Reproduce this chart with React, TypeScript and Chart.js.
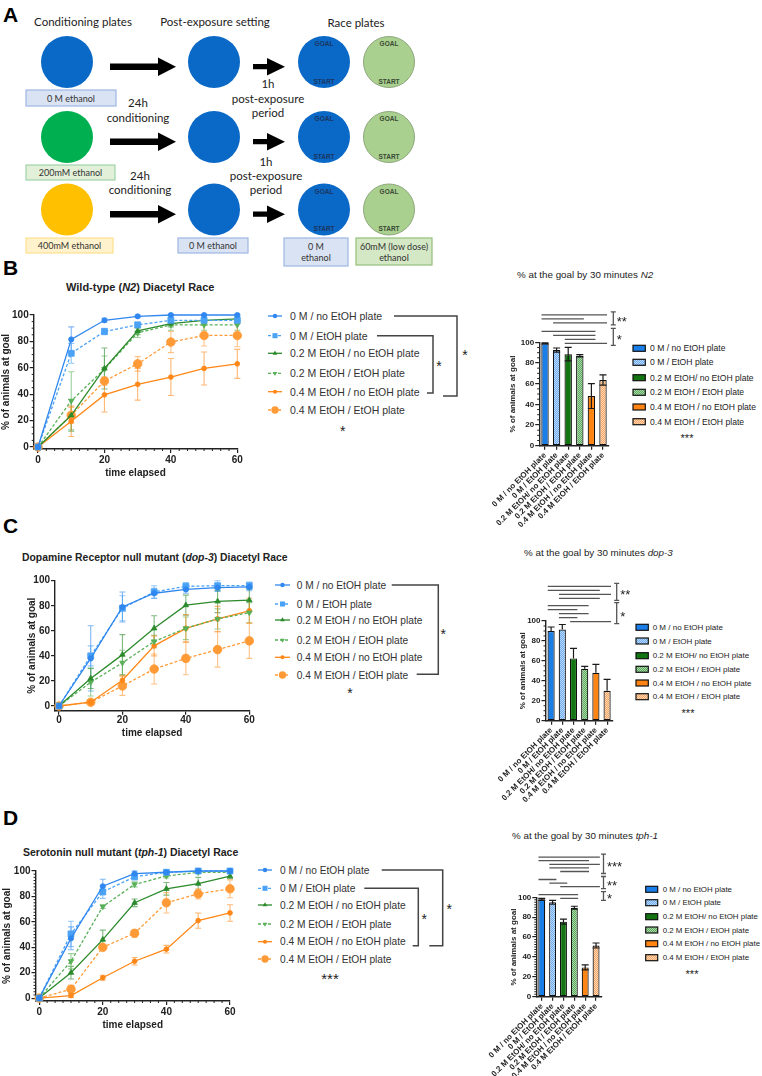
import React, { useEffect, useRef } from 'react';
import { Chart, registerables } from 'chart.js';

Chart.register(...registerables);

const SANS = '"Liberation Sans", Arial, Helvetica, sans-serif';
const LATO = 'Lato, "Open Sans", sans-serif';

Chart.defaults.font.family = SANS;
Chart.defaults.color = '#222';

// ---------------- data ----------------
const TIME = [0, 10, 20, 30, 40, 50, 60];
const TIME_TICKS = [0, 20, 40, 60];
const PCT_TICKS = [0, 20, 40, 60, 80, 100];

const LINE_GROUPS = [
  '0 M / no EtOH plate',
  '0 M / EtOH plate',
  '0.2 M EtOH / no EtOH plate',
  '0.2 M EtOH / EtOH plate',
  '0.4 M EtOH / no EtOH plate',
  '0.4 M EtOH / EtOH plate',
];
const BAR_GROUPS = [
  '0 M / no EtOH plate',
  '0 M / EtOH plate',
  '0.2 M EtOH/ no EtOH plate',
  '0.2 M EtOH / EtOH plate',
  '0.4 M EtOH / no EtOH plate',
  '0.4 M EtOH / EtOH plate',
];

// Wild-type (N2)
const N2_MEAN = [
  [0, 81.5, 96, 99, 100, 100, 100],
  [0, 71, 87.5, 92.5, 96, 96, 96],
  [0, 24, 59.5, 88, 93.5, 96, 97],
  [0, 35, 59, 86.5, 92.5, 92.5, 92.5],
  [0, 19.5, 39.5, 47.5, 53, 59.5, 63],
  [0, 24, 50, 63, 79.5, 84.5, 84.5],
];
const N2_SEM = [
  [0, 9.5, 1.5, 0.8, 0.5, 0.5, 0.5],
  [0, 7.5, 2.5, 2, 1.5, 1.5, 1.5],
  [0, 12, 15.5, 3, 2.5, 2, 1.5],
  [0, 22, 10, 3.5, 4, 4, 4],
  [0, 11.5, 13, 12, 14, 12.5, 11],
  [0, 6, 3, 5.5, 8, 8, 8.5],
];
const N2_BAR = [99, 92.5, 88.5, 87, 48, 63.5];
const N2_BAR_SEM = [0.5, 2, 6.5, 1, 12, 5];
const N2_SIG = [
  { mark: '**', pairs: [[0, 5], [0, 3], [1, 5]] },
  { mark: '*', pairs: [[0, 4], [1, 4], [2, 4], [2, 5]] },
];

// Dopamine receptor null mutant (dop-3)
const DOP3_MEAN = [
  [0, 38, 79, 90, 93, 94.5, 95],
  [0, 40, 78, 91, 95.5, 96, 96],
  [0, 22, 41, 62, 80.5, 83.5, 84.5],
  [0, 19, 34.5, 51.5, 62, 69.5, 74.5],
  [0, 3, 20.5, 48, 62, 69.5, 76],
  [0, 3, 16, 29.5, 38, 45, 52],
];
const DOP3_SEM = [
  [0, 26, 12, 4, 3, 3, 3],
  [0, 8, 10, 5, 3, 4, 3],
  [0, 8, 16, 10, 8, 9, 9],
  [0, 11, 10, 5, 9, 8, 8],
  [0, 1, 4, 8, 11, 10, 10],
  [0, 1, 7.5, 12, 13, 14, 14],
];
const DOP3_BAR = [90, 91.5, 62.5, 52, 48, 30];
const DOP3_BAR_SEM = [4, 5, 10, 2.5, 8.5, 11.5];
const DOP3_SIG = [
  { mark: '**', pairs: [[0, 5], [0, 4], [1, 5], [1, 4]] },
  { mark: '*', pairs: [[0, 3], [0, 2], [1, 3], [1, 2], [2, 5]] },
];

// Serotonin null mutant (tph-1)
const TPH1_MEAN = [
  [0, 47, 88, 98, 99, 100, 100],
  [0, 50.5, 83.5, 95.5, 99, 100, 100],
  [0, 20, 46, 75, 86, 90, 96],
  [0, 29, 72, 89.5, 96, 99, 99],
  [0, 2, 16, 29, 38.5, 61, 67],
  [0, 7, 40, 51, 75, 82, 86],
];
const TPH1_SEM = [
  [0, 9, 5.5, 2, 1, 0.5, 0.5],
  [0, 10, 5, 2.5, 1, 0.5, 0.5],
  [0, 5, 7.5, 3, 5, 5, 2],
  [0, 6, 1.5, 2, 1.5, 1, 1],
  [0, 1.5, 2, 3, 3, 6, 6.5],
  [0, 3, 2, 3, 8, 4, 7],
];
const TPH1_BAR = [98, 95, 75.5, 89.5, 29.5, 51.5];
const TPH1_BAR_SEM = [1, 2, 2.5, 1.5, 2.5, 2.5];
const TPH1_SIG = [
  { mark: '***', pairs: [[0, 5], [0, 4], [1, 5], [1, 4], [2, 4]] },
  { mark: '**', pairs: [[0, 1], [1, 2], [2, 5]] },
  { mark: '*', pairs: [[0, 3], [2, 3]] },
];

// ---------------- styles ----------------
const LINE_STYLES = [
  { color: '#2f87ef', err: 'rgba(47,135,239,0.6)', dash: [], shape: 'circle', r: 2.6, rot: 0 },
  { color: '#4aa2f6', err: 'rgba(74,162,246,0.6)', dash: [3, 2], shape: 'rect', r: 4.2, rot: 0 },
  { color: '#2b8a2b', err: 'rgba(43,138,43,0.6)', dash: [], shape: 'triangle', r: 3.2, rot: 0 },
  { color: '#58b058', err: 'rgba(88,176,88,0.6)', dash: [3, 2], shape: 'triangle', r: 3.2, rot: 180 },
  { color: '#ff8717', err: 'rgba(255,135,23,0.6)', dash: [], shape: 'circle', r: 2.4, rot: 0 },
  { color: '#ff9a36', err: 'rgba(255,154,54,0.6)', dash: [3, 2], shape: 'circle', r: 4.3, rot: 0 },
];

const BAR_FILLS = [
  { base: '#1a7ee8', dot: null, pat: '' },
  { base: '#6aabf1', dot: '#bcd9fa', pat: 'patBlue' },
  { base: '#127512', dot: null, pat: '' },
  { base: '#5aab5a', dot: '#acd7ac', pat: 'patGreen' },
  { base: '#ff8412', dot: null, pat: '' },
  { base: '#f5a564', dot: '#fbd6b5', pat: 'patOrange' },
];

function makeFill(f: any) {
  if (!f.dot) return f.base;
  const c = document.createElement('canvas');
  c.width = 2;
  c.height = 2;
  const g = c.getContext('2d')!;
  g.fillStyle = f.base;
  g.fillRect(0, 0, 2, 2);
  g.fillStyle = f.dot;
  g.fillRect(0, 0, 1, 1);
  g.fillRect(1, 1, 1, 1);
  return g.createPattern(c, 'repeat');
}

// ---------------- plugins ----------------
const lineErrorBars = {
  id: 'lineErrorBars',
  beforeDatasetsDraw(chart: any, _a: any, opts: any) {
    const { ctx } = chart;
    const xs = chart.scales.x;
    const ys = chart.scales.y;
    chart.data.datasets.forEach((ds: any, i: number) => {
      const sem = opts.sems[i];
      ctx.save();
      ctx.strokeStyle = LINE_STYLES[i].err;
      ctx.lineWidth = 1.1;
      ds.data.forEach((pt: any, k: number) => {
        const e = sem[k];
        if (!e) return;
        const x = xs.getPixelForValue(pt.x);
        const y1 = ys.getPixelForValue(pt.y + e);
        const y2 = ys.getPixelForValue(pt.y - e);
        ctx.beginPath();
        ctx.moveTo(x, y1);
        ctx.lineTo(x, y2);
        ctx.moveTo(x - 3, y1);
        ctx.lineTo(x + 3, y1);
        ctx.moveTo(x - 3, y2);
        ctx.lineTo(x + 3, y2);
        ctx.stroke();
      });
      ctx.restore();
    });
  },
};

const barErrorBars = {
  id: 'barErrorBars',
  afterDatasetsDraw(chart: any, _a: any, opts: any) {
    const { ctx } = chart;
    const ys = chart.scales.y;
    const meta = chart.getDatasetMeta(0);
    const vals = chart.data.datasets[0].data;
    ctx.save();
    ctx.strokeStyle = '#1a1a1a';
    ctx.lineWidth = 1.2;
    meta.data.forEach((bar: any, i: number) => {
      const v = vals[i];
      const e = opts.sems[i];
      const x = bar.x;
      const y1 = ys.getPixelForValue(v + e);
      const y2 = ys.getPixelForValue(opts.upperOnly ? v : v - e);
      ctx.beginPath();
      ctx.moveTo(x, y1);
      ctx.lineTo(x, y2);
      ctx.moveTo(x - 3.5, y1);
      ctx.lineTo(x + 3.5, y1);
      if (!opts.upperOnly) {
        ctx.moveTo(x - 3.5, y2);
        ctx.lineTo(x + 3.5, y2);
      }
      ctx.stroke();
    });
    ctx.restore();
  },
};

const minorTicks = {
  id: 'minorTicks',
  afterDraw(chart: any, _a: any, opts: any) {
    const { ctx, chartArea } = chart;
    ctx.save();
    ctx.strokeStyle = '#222';
    ctx.lineWidth = 1;
    ctx.beginPath();
    if (opts.x) {
      const s = chart.scales.x;
      for (let v = opts.x; v < s.max - 1e-6; v += opts.x) {
        if (Math.abs(v % 20) < 1e-6) continue;
        const px = s.getPixelForValue(v);
        ctx.moveTo(px, chartArea.bottom);
        ctx.lineTo(px, chartArea.bottom + opts.len);
      }
    }
    if (opts.y) {
      const s = chart.scales.y;
      for (let v = opts.y; v < s.max - 1e-6; v += opts.y) {
        if (Math.abs(v % 20) < 1e-6) continue;
        const py = s.getPixelForValue(v);
        ctx.moveTo(chartArea.left, py);
        ctx.lineTo(chartArea.left - opts.len, py);
      }
    }
    ctx.stroke();
    ctx.restore();
  },
};

// comparison lines drawn above the bars, with a bracket and mark per group
const sigLines = {
  id: 'sigLines',
  afterDraw(chart: any, _a: any, opts: any) {
    const { ctx, chartArea } = chart;
    const xs = chart.scales.x;
    const step = xs.getPixelForValue(1) - xs.getPixelForValue(0);
    let y = chartArea.top + opts.base;
    const placed: any[] = [];
    for (let g = opts.groups.length - 1; g >= 0; g--) {
      const grp = opts.groups[g];
      const rows: any[] = [];
      let last = y;
      for (let p = grp.pairs.length - 1; p >= 0; p--) {
        rows.unshift({ pair: grp.pairs[p], y });
        last = y;
        y -= opts.rowStep;
      }
      placed.unshift({ mark: grp.mark, rows });
      y = last - opts.groupGap;
    }
    ctx.save();
    ctx.strokeStyle = '#555';
    ctx.lineWidth = 1.3;
    const bx = chartArea.right + opts.bracketDx;
    placed.forEach((grp) => {
      ctx.beginPath();
      grp.rows.forEach((r: any) => {
        const x1 = xs.getPixelForValue(r.pair[0]) - 0.3 * step;
        const x2 = xs.getPixelForValue(r.pair[1]) + 0.35 * step;
        ctx.moveTo(x1, r.y);
        ctx.lineTo(x2, r.y);
      });
      const top = grp.rows[0].y - 3;
      const bot = grp.rows[grp.rows.length - 1].y + 2;
      ctx.moveTo(bx, top);
      ctx.lineTo(bx, bot);
      ctx.moveTo(bx - 2.5, top);
      ctx.lineTo(bx + 2.5, top);
      ctx.moveTo(bx - 2.5, bot);
      ctx.lineTo(bx + 2.5, bot);
      ctx.stroke();
      ctx.fillStyle = '#222';
      ctx.font = `13px ${SANS}`;
      ctx.textAlign = 'left';
      ctx.textBaseline = 'alphabetic';
      ctx.fillText(grp.mark, bx + 3.5, (top + bot) / 2 + 0.57 * 13);
    });
    ctx.restore();
  },
};

const axisGrid = {
  display: true,
  drawOnChartArea: false,
  drawTicks: true,
  tickLength: 4,
  color: '#222',
  lineWidth: 1.2,
};
const axisBorder = { display: true, color: '#222', width: 1.4 };

function lineConfig(spec: any) {
  const { box, area } = spec;
  const titleSize = 10;
  const padLeft = spec.yTitleX - 0.6 * titleSize - box.left;
  const yWidth = area.left - box.left - padLeft;
  const padTop = area.top - box.top;
  const padRight = box.left + box.width - area.right;
  const xHeight = box.top + box.height - area.bottom;
  return {
    type: 'line',
    data: {
      datasets: LINE_GROUPS.map((label, i) => {
        const st = LINE_STYLES[i];
        return {
          label,
          data: TIME.map((t, k) => ({ x: t, y: spec.means[i][k] })),
          borderColor: st.color,
          backgroundColor: st.color,
          borderWidth: 1.3,
          borderDash: st.dash,
          pointStyle: st.shape,
          pointRadius: st.r,
          pointRotation: st.rot,
          pointBackgroundColor: st.color,
          pointBorderColor: st.color,
          pointBorderWidth: 0.8,
          tension: 0,
          clip: false,
        };
      }),
    },
    options: {
      responsive: false,
      animation: false,
      events: [],
      layout: { padding: { left: padLeft, top: padTop, right: padRight, bottom: 0 } },
      scales: {
        x: {
          type: 'linear',
          min: spec.xMin,
          max: 60,
          afterBuildTicks: (s: any) => {
            s.ticks = TIME_TICKS.map((v) => ({ value: v }));
          },
          afterFit: (s: any) => {
            s.height = xHeight;
            s.paddingLeft = 0;
            s.paddingRight = 0;
          },
          grid: axisGrid,
          border: axisBorder,
          ticks: { font: { size: 10, weight: 'bold' }, color: '#222', padding: spec.xTickPad, maxRotation: 0, autoSkip: false },
          title: { display: true, text: 'time elapsed', font: { size: titleSize, weight: 'bold' }, color: '#222', padding: 0 },
        },
        y: {
          type: 'linear',
          min: spec.yMin,
          max: 100,
          afterBuildTicks: (s: any) => {
            s.ticks = PCT_TICKS.map((v) => ({ value: v }));
          },
          afterFit: (s: any) => {
            s.width = yWidth;
            s.paddingTop = 0;
            s.paddingBottom = 0;
          },
          grid: axisGrid,
          border: axisBorder,
          ticks: { font: { size: 10, weight: 'bold' }, color: '#222', padding: 1 },
          title: { display: true, text: '% of animals at goal', font: { size: titleSize, weight: 'bold' }, color: '#222', padding: 0 },
        },
      },
      plugins: {
        legend: { display: false },
        tooltip: { enabled: false },
        lineErrorBars: { sems: spec.sems },
        minorTicks: { x: spec.xMinor, y: spec.yMinor, len: 2 },
      },
    },
    plugins: [lineErrorBars, minorTicks],
  };
}

function barConfig(spec: any) {
  const { box, area } = spec;
  const titleSize = 8;
  const padLeft = spec.yTitleX - 0.6 * titleSize - box.left;
  const yWidth = area.left - box.left - padLeft;
  const padTop = area.top - box.top;
  const padRight = box.left + box.width - area.right;
  const xHeight = box.top + box.height - area.bottom;
  return {
    type: 'bar',
    data: {
      labels: BAR_GROUPS,
      datasets: [
        {
          data: spec.means,
          backgroundColor: BAR_FILLS.map(makeFill),
          borderColor: '#111',
          borderWidth: 1.2,
          borderSkipped: false,
          barPercentage: 0.64,
          categoryPercentage: 1,
        },
      ],
    },
    options: {
      responsive: false,
      animation: false,
      events: [],
      layout: { padding: { left: padLeft, top: padTop, right: padRight, bottom: 0 } },
      scales: {
        x: {
          type: 'category',
          offset: true,
          afterFit: (s: any) => {
            s.height = xHeight;
            s.paddingLeft = 0;
            s.paddingRight = 0;
          },
          grid: { ...axisGrid, offset: false },
          border: axisBorder,
          ticks: { font: { size: 8, weight: 'bold' }, color: '#222', padding: 1, minRotation: 45, maxRotation: 45, autoSkip: false },
        },
        y: {
          type: 'linear',
          min: 0,
          max: 100,
          afterBuildTicks: (s: any) => {
            s.ticks = PCT_TICKS.map((v) => ({ value: v }));
          },
          afterFit: (s: any) => {
            s.width = yWidth;
            s.paddingTop = 0;
            s.paddingBottom = 0;
          },
          grid: axisGrid,
          border: axisBorder,
          ticks: { font: { size: 8, weight: 'bold' }, color: '#222', padding: 1 },
          title: { display: true, text: '% of animals at goal', font: { size: titleSize, weight: 'bold' }, color: '#222', padding: 0 },
        },
      },
      plugins: {
        legend: { display: false },
        tooltip: { enabled: false },
        barErrorBars: { sems: spec.sems, upperOnly: !!spec.upperOnly },
        minorTicks: { x: 0, y: spec.yMinor, len: 2 },
        sigLines: spec.sig,
      },
    },
    plugins: [barErrorBars, minorTicks, sigLines],
  };
}

// ---------------- chart placement ----------------
const N2_LINE = {
  means: N2_MEAN, sems: N2_SEM,
  box: { left: 0, top: 300, width: 250, height: 179 },
  area: { left: 33.7, top: 315, right: 237.3, bottom: 449 },
  xMin: -1.3, yMin: -1.5, yTitleX: 6.7, xMinor: 2.5, yMinor: 5, xTickPad: 1.3,
};
const DOP3_LINE = {
  means: DOP3_MEAN, sems: DOP3_SEM,
  box: { left: 0, top: 565, width: 262, height: 174 },
  area: { left: 55, top: 580.7, right: 249.3, bottom: 710.7 },
  xMin: -1.26, yMin: -3.75, yTitleX: 32, xMinor: 0, yMinor: 0, xTickPad: 0,
};
const TPH1_LINE = {
  means: TPH1_MEAN, sems: TPH1_SEM,
  box: { left: 0, top: 860, width: 250, height: 171 },
  area: { left: 35.5, top: 871, right: 230, bottom: 1001 },
  xMin: -1.16, yMin: -2.28, yTitleX: 7, xMinor: 2.5, yMinor: 2.5, xTickPad: 1,
};
const N2_BARS = {
  means: N2_BAR, sems: N2_BAR_SEM,
  box: { left: 480, top: 300, width: 282, height: 235 },
  area: { left: 539.2, top: 342.3, right: 608.8, bottom: 445.7 },
  yTitleX: 513, yMinor: 5,
  sig: { groups: N2_SIG, base: 1, rowStep: 4, groupGap: 8.4, bracketDx: 4.5 },
};
const DOP3_BARS = {
  means: DOP3_BAR, sems: DOP3_BAR_SEM, upperOnly: true,
  box: { left: 480, top: 570, width: 282, height: 235 },
  area: { left: 545.5, top: 621, right: 612.7, bottom: 720.7 },
  yTitleX: 522.7, yMinor: 5,
  sig: { groups: DOP3_SIG, base: 0.7, rowStep: 4, groupGap: 7.4, bracketDx: 4 },
};
const TPH1_BARS = {
  means: TPH1_BAR, sems: TPH1_BAR_SEM,
  box: { left: 480, top: 845, width: 282, height: 231 },
  area: { left: 536.3, top: 897.3, right: 601.5, bottom: 996.7 },
  yTitleX: 513.3, yMinor: 2.5,
  sig: { groups: TPH1_SIG, base: 1, rowStep: 3.6, groupGap: 8, bracketDx: 2 },
};

// legends beside the line charts
const N2_LEGEND = {
  symX: 268, symW: 14, textX: 290, size: 10.5,
  rows: [316, 335.7, 353.3, 373.3, 391.7, 410],
  star: { x: 342.7, y: 428, text: '*', size: 14 },
  brackets: [
    { x1: 394, y1: 316, x2: 457, y2: 396, x3: 443, sx: 465, sy: 352 },
    { x1: 377, y1: 335.7, x2: 433, y2: 393, x3: 427, sx: 439, sy: 363 },
  ],
};
const DOP3_LEGEND = {
  symX: 275, symW: 15, textX: 296.7, size: 10.2,
  rows: [585, 604, 620, 640, 657.3, 675],
  star: { x: 350, y: 690, text: '*', size: 14 },
  brackets: [{ x1: 391.7, y1: 585, x2: 438.3, y2: 674.3, x3: 416.7, sx: 443.3, sy: 630.7 }],
};
const TPH1_LEGEND = {
  symX: 258, symW: 14, textX: 280, size: 10.2,
  rows: [870, 888.3, 905, 924, 941.7, 959],
  star: { x: 330, y: 975, text: '***', size: 15 },
  brackets: [
    { x1: 381.7, y1: 870, x2: 442.7, y2: 945.7, x3: 429.3, sx: 449.3, sy: 906 },
    { x1: 364.3, y1: 888.3, x2: 418.3, y2: 945.7, x3: 412.7, sx: 424.3, sy: 916 },
  ],
};

const N2_BAR_LEGEND = { swX: 633, swW: 12.3, swH: 6, textX: 650, size: 8.6, rows: [348.3, 362.3, 377.7, 392.3, 407, 421.7], sx: 687, sy: 436 };
const DOP3_BAR_LEGEND = { swX: 636, swW: 12.3, swH: 6, textX: 652.7, size: 8, rows: [627.3, 641, 655.7, 669.3, 683, 696.7], sx: 688, sy: 710.7 };
const TPH1_BAR_LEGEND = { swX: 645.7, swW: 12, swH: 6, textX: 662.7, size: 7.9, rows: [889.3, 902.7, 916.7, 930, 943.7, 957.7], sx: 692, sy: 971.7 };

// ---------------- components ----------------
function ChartCanvas({ box, build }: any) {
  const ref = useRef<HTMLCanvasElement>(null);
  useEffect(() => {
    const chart = new Chart(ref.current as HTMLCanvasElement, build() as any);
    return () => chart.destroy();
  }, []);
  return (
    <canvas
      ref={ref}
      width={box.width}
      height={box.height}
      style={{ position: 'absolute', left: box.left, top: box.top, width: box.width, height: box.height }}
    />
  );
}

function Star({ x, y, text, size }: any) {
  return (
    <text x={x} y={y + 0.57 * size} textAnchor="middle" fontSize={size} fill="#222" fontFamily={SANS}>
      {text}
    </text>
  );
}

function Marker({ shape, r, rot, x, y, color }: any) {
  if (shape === 'circle') return <circle cx={x} cy={y} r={r} fill={color} />;
  if (shape === 'rect') {
    const s = r * 1.414;
    return <rect x={x - s / 2} y={y - s / 2} width={s} height={s} fill={color} />;
  }
  const pts = [0, 120, 240]
    .map((a) => {
      const t = ((a + rot) * Math.PI) / 180;
      return `${x + Math.sin(t) * r},${y - Math.cos(t) * r}`;
    })
    .join(' ');
  return <polygon points={pts} fill={color} />;
}

function LineLegend({ spec }: any) {
  return (
    <g fontFamily={SANS}>
      {LINE_GROUPS.map((label, i) => {
        const st = LINE_STYLES[i];
        const y = spec.rows[i];
        return (
          <g key={label}>
            <line
              x1={spec.symX}
              y1={y}
              x2={spec.symX + spec.symW}
              y2={y}
              stroke={st.color}
              strokeWidth={1.3}
              strokeDasharray={st.dash.length ? st.dash.join(' ') : undefined}
            />
            <Marker shape={st.shape} r={st.r * 0.85} rot={st.rot} x={spec.symX + spec.symW / 2} y={y} color={st.color} />
            <text x={spec.textX} y={y} dominantBaseline="central" fontSize={spec.size} fill="#333">
              {label}
            </text>
          </g>
        );
      })}
      {spec.brackets.map((b: any, k: number) => (
        <g key={k}>
          <polyline
            points={`${b.x1},${b.y1} ${b.x2},${b.y1} ${b.x2},${b.y2} ${b.x3},${b.y2}`}
            fill="none"
            stroke="#444"
            strokeWidth={1.5}
          />
          <Star x={b.sx} y={b.sy} text="*" size={14} />
        </g>
      ))}
      <Star x={spec.star.x} y={spec.star.y} text={spec.star.text} size={spec.star.size} />
    </g>
  );
}

function BarLegend({ spec }: any) {
  return (
    <g fontFamily={SANS}>
      {BAR_GROUPS.map((label, i) => {
        const f = BAR_FILLS[i];
        const y = spec.rows[i];
        return (
          <g key={label}>
            <rect
              x={spec.swX}
              y={y - spec.swH / 2}
              width={spec.swW}
              height={spec.swH}
              fill={f.pat ? `url(#${f.pat})` : f.base}
              stroke="#111"
              strokeWidth={1.2}
            />
            <text x={spec.textX} y={y} dominantBaseline="central" fontSize={spec.size} fill="#222">
              {label}
            </text>
          </g>
        );
      })}
      <Star x={spec.sx} y={spec.sy} text="***" size={11} />
    </g>
  );
}

const PLATE_BLUE = '#0a69c6';
const ROW_Y = [62, 137, 209.5];
const FIRST_COL_FILL = [PLATE_BLUE, '#00b050', '#ffc000'];

function bigArrow(y: number) {
  return `110,${y - 3.3} 158,${y - 3.3} 158,${y - 9.3} 176,${y} 158,${y + 9.3} 158,${y + 3.3} 110,${y + 3.3}`;
}
function smallArrow(y: number) {
  return `253,${y - 2.6} 267,${y - 2.6} 267,${y - 8.8} 285,${y} 267,${y + 8.8} 267,${y + 2.6} 253,${y + 2.6}`;
}

const LABEL_BOXES = [
  { x: 26, y: 90, w: 90, h: 16, fill: '#dae3f3', stroke: '#9fb6e4', lines: ['0 M ethanol'] },
  { x: 26, y: 165, w: 89, h: 15, fill: '#e2f0d9', stroke: '#9fd3a9', lines: ['200mM ethanol'] },
  { x: 26, y: 238, w: 87, h: 15, fill: '#fff2cc', stroke: '#fde28f', lines: ['400mM ethanol'] },
  { x: 178, y: 238, w: 70, h: 15, fill: '#dae3f3', stroke: '#9fb6e4', lines: ['0 M ethanol'] },
  { x: 284, y: 238, w: 64, h: 28, fill: '#dae3f3', stroke: '#9fb6e4', lines: ['0 M', 'ethanol'] },
  { x: 356, y: 238, w: 76, h: 27, fill: '#d5e8c6', stroke: '#94bf7a', lines: ['60mM (low dose)', 'ethanol'] },
];

const STEP_TEXT = [
  { x: 138, y: 102, t: '24h' },
  { x: 138, y: 117, t: 'conditioning' },
  { x: 140, y: 175, t: '24h' },
  { x: 140, y: 189, t: 'conditioning' },
  { x: 268, y: 83, t: '1h' },
  { x: 268, y: 98, t: 'post-exposure' },
  { x: 268, y: 112, t: 'period' },
  { x: 266, y: 161, t: '1h' },
  { x: 266, y: 175, t: 'post-exposure' },
  { x: 266, y: 189, t: 'period' },
];

function Protocol() {
  return (
    <g>
      <g fontFamily={LATO} fontSize={11.5} fill="#222" textAnchor="middle">
        <text x={83} y={21} dominantBaseline="central">Conditioning plates</text>
        <text x={215} y={21} dominantBaseline="central">Post-exposure setting</text>
        <text x={356} y={22} dominantBaseline="central">Race plates</text>
        {STEP_TEXT.map((s, i) => (
          <text key={i} x={s.x} y={s.y} dominantBaseline="central">
            {s.t}
          </text>
        ))}
      </g>
      {ROW_Y.map((y, r) => (
        <g key={r}>
          <circle cx={67} cy={y} r={26} fill={FIRST_COL_FILL[r]} />
          <polygon points={bigArrow(y + 4.7)} fill="#000" />
          <circle cx={214} cy={y} r={26} fill={PLATE_BLUE} />
          <polygon points={smallArrow(y + 4.7)} fill="#000" />
          <circle cx={324} cy={y} r={26} fill={PLATE_BLUE} />
          <circle cx={389} cy={y} r={25.5} fill="#a9d08e" stroke="#8da87c" strokeWidth={1} />
          <g fontFamily={SANS} fontSize={6.5} fontWeight="bold" textAnchor="middle">
            <text x={324} y={y - 18.5} dominantBaseline="central" fill="#1b3561">GOAL</text>
            <text x={324} y={y + 19} dominantBaseline="central" fill="#1b3561">START</text>
            <text x={389} y={y - 18.5} dominantBaseline="central" fill="#3b4a36">GOAL</text>
            <text x={389} y={y + 19} dominantBaseline="central" fill="#3b4a36">START</text>
          </g>
        </g>
      ))}
      {LABEL_BOXES.map((b, i) => (
        <g key={i}>
          <rect x={b.x} y={b.y} width={b.w} height={b.h} fill={b.fill} stroke={b.stroke} strokeWidth={1.2} />
          {b.lines.map((t, k) => (
            <text
              key={k}
              x={b.x + b.w / 2}
              y={b.lines.length === 1 ? b.y + b.h / 2 : b.y + 8 + k * 11}
              dominantBaseline="central"
              textAnchor="middle"
              fontFamily={LATO}
              fontSize={9}
              fill="#333"
            >
              {t}
            </text>
          ))}
        </g>
      ))}
    </g>
  );
}

function Overlay() {
  return (
    <svg width={762} height={1076} style={{ position: 'absolute', left: 0, top: 0 }}>
      <defs>
        {BAR_FILLS.filter((f) => f.pat).map((f) => (
          <pattern key={f.pat} id={f.pat} width={2} height={2} patternUnits="userSpaceOnUse">
            <rect width={2} height={2} fill={f.base} />
            <rect width={1} height={1} fill={f.dot as string} />
            <rect x={1} y={1} width={1} height={1} fill={f.dot as string} />
          </pattern>
        ))}
      </defs>
      <g fontFamily={SANS} fontWeight="bold" fontSize={21} fill="#000">
        <text x={3} y={22}>A</text>
        <text x={3} y={275}>B</text>
        <text x={3} y={533}>C</text>
        <text x={3} y={825}>D</text>
      </g>
      <Protocol />
      <g fontFamily={SANS} fill="#222">
        <text x={66} y={287} dominantBaseline="central" fontSize={11} fontWeight="bold">
          Wild-type (<tspan fontStyle="italic">N2</tspan>) Diacetyl Race
        </text>
        <text x={517} y={274} dominantBaseline="central" fontSize={9.8}>
          % at the goal by 30 minutes <tspan fontStyle="italic">N2</tspan>
        </text>
        <text x={22} y={557} dominantBaseline="central" fontSize={10.4} fontWeight="bold">
          Dopamine Receptor null mutant (<tspan fontStyle="italic">dop-3</tspan>) Diacetyl Race
        </text>
        <text x={524} y={552} dominantBaseline="central" fontSize={9.8}>
          % at the goal by 30 minutes <tspan fontStyle="italic">dop-3</tspan>
        </text>
        <text x={23} y={852} dominantBaseline="central" fontSize={10.5} fontWeight="bold">
          Serotonin null mutant (<tspan fontStyle="italic">tph-1</tspan>) Diacetyl Race
        </text>
        <text x={512} y={835} dominantBaseline="central" fontSize={9.8}>
          % at the goal by 30 minutes <tspan fontStyle="italic">tph-1</tspan>
        </text>
      </g>
      <LineLegend spec={N2_LEGEND} />
      <LineLegend spec={DOP3_LEGEND} />
      <LineLegend spec={TPH1_LEGEND} />
      <BarLegend spec={N2_BAR_LEGEND} />
      <BarLegend spec={DOP3_BAR_LEGEND} />
      <BarLegend spec={TPH1_BAR_LEGEND} />
    </svg>
  );
}

export default function App() {
  useEffect(() => {
    document.body.style.margin = '0';
  }, []);
  return (
    <div style={{ position: 'relative', width: 762, height: 1076, background: '#fff', overflow: 'hidden' }}>
      <Overlay />
      <ChartCanvas box={N2_LINE.box} build={() => lineConfig(N2_LINE)} />
      <ChartCanvas box={DOP3_LINE.box} build={() => lineConfig(DOP3_LINE)} />
      <ChartCanvas box={TPH1_LINE.box} build={() => lineConfig(TPH1_LINE)} />
      <ChartCanvas box={N2_BARS.box} build={() => barConfig(N2_BARS)} />
      <ChartCanvas box={DOP3_BARS.box} build={() => barConfig(DOP3_BARS)} />
      <ChartCanvas box={TPH1_BARS.box} build={() => barConfig(TPH1_BARS)} />
    </div>
  );
}
